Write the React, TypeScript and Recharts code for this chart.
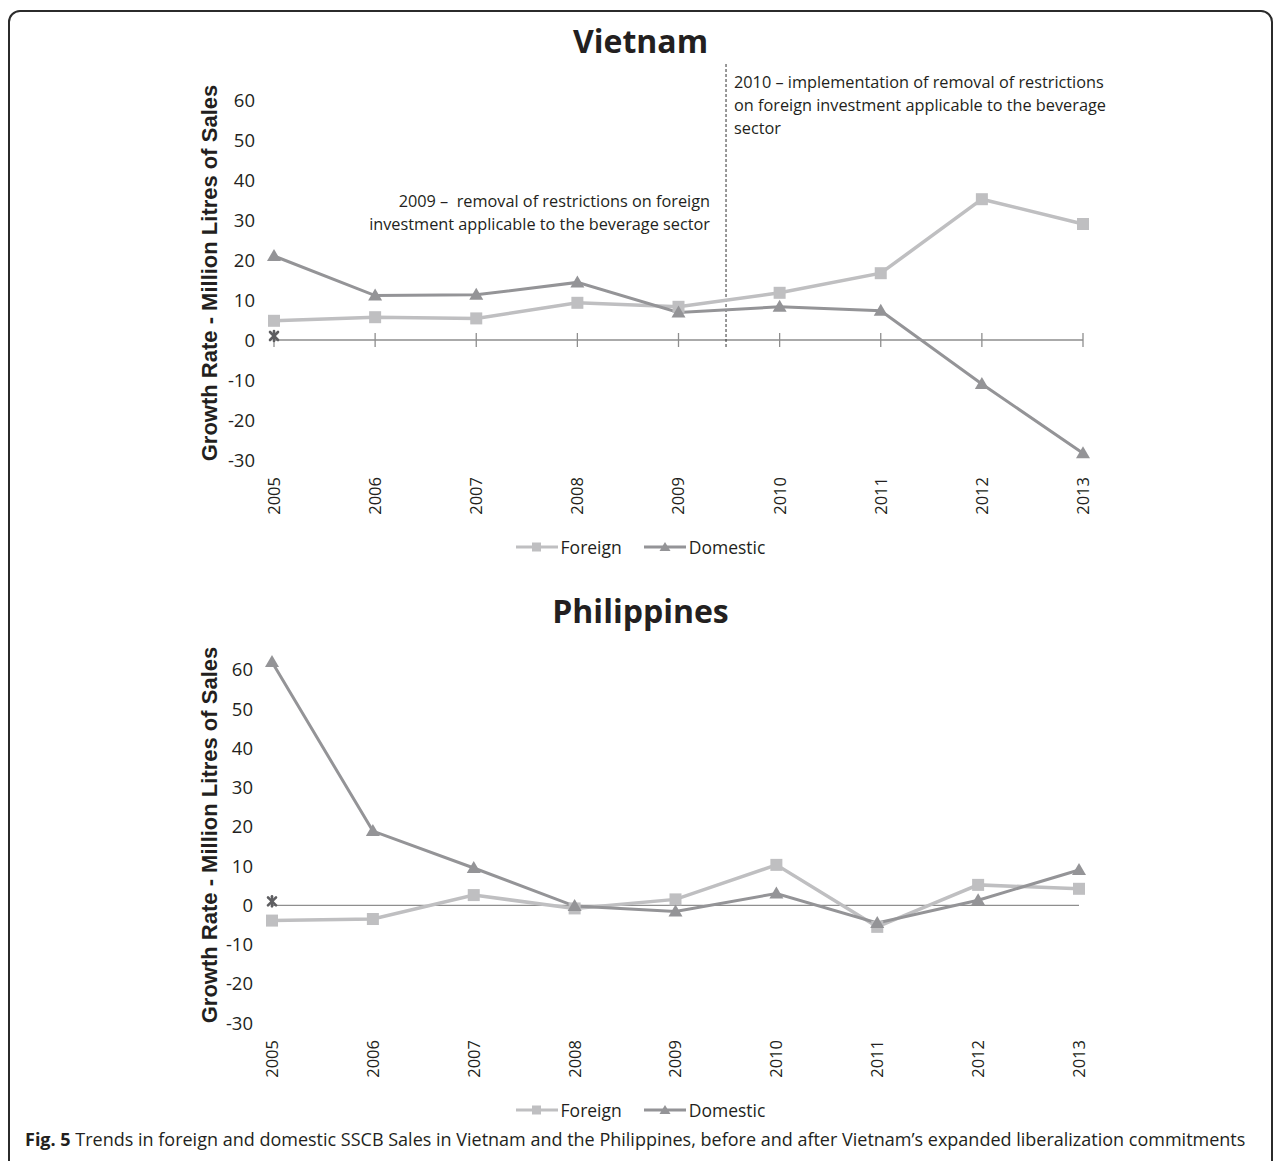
import React from "react";
import { LineChart, Line, XAxis, YAxis, ReferenceLine, Legend } from "recharts";

// categories and tick values
const years = [2005, 2006, 2007, 2008, 2009, 2010, 2011, 2012, 2013];
const yTicks = [-30, -20, -10, 0, 10, 20, 30, 40, 50, 60];

// Vietnam growth rates (million litres)
const vnForeign = [4.8, 5.7, 5.4, 9.3, 8.3, 11.8, 16.7, 35.2, 29.0];
const vnDomestic = [21.0, 11.1, 11.3, 14.4, 6.9, 8.3, 7.3, -11.0, -28.3];
const vnMarker = [1.0, null, null, null, null, null, null, null, null];

// Philippines growth rates (million litres)
const phForeign = [-3.9, -3.5, 2.6, -0.8, 1.5, 10.3, -5.5, 5.2, 4.2];
const phDomestic = [62.0, 18.9, 9.5, -0.2, -1.6, 3.0, -4.5, 1.3, 9.0];
const phMarker = [1.0, null, null, null, null, null, null, null, null];

// Vietnam reform marker (between 2009 and 2010)
const vnReformYear = 2009.47;

const legendOrder = ["foreign", "domestic"];

const FONT = '"Open Sans", sans-serif';
const TEXT = "#231f20";
const FOREIGN = "#bfbfc1";
const DOMESTIC = "#949497";
const AXIS = "#8e8e8e";

const buildRows = (foreign: number[], domestic: number[], marker: (number | null)[]) =>
  years.map((year, i) => ({ year, foreign: foreign[i], domestic: domestic[i], marker: marker[i] }));

const SquareDot = (props: any) => {
  const { cx, cy, index } = props;
  if (cx == null || cy == null) return <g key={`sq-${index}`} />;
  return <rect key={`sq-${index}`} x={cx - 6} y={cy - 6} width={12} height={12} fill={FOREIGN} />;
};

const TriangleDot = (props: any) => {
  const { cx, cy, index } = props;
  if (cx == null || cy == null) return <g key={`tr-${index}`} />;
  return (
    <polygon
      key={`tr-${index}`}
      points={`${cx},${cy - 7} ${cx - 7},${cy + 5} ${cx + 7},${cy + 5}`}
      fill={DOMESTIC}
    />
  );
};

const StarDot = (props: any) => {
  const { cx, cy, index } = props;
  if (cx == null || cy == null || props.value == null) return <g key={`st-${index}`} />;
  return (
    <g key={`st-${index}`} stroke="#5e5e61" strokeWidth={2.6} strokeLinecap="round">
      <line x1={cx - 4} y1={cy - 4} x2={cx + 4} y2={cy + 4} />
      <line x1={cx - 4} y1={cy + 4} x2={cx + 4} y2={cy - 4} />
      <line x1={cx} y1={cy - 5} x2={cx} y2={cy + 5} />
    </g>
  );
};

const YearTick = (props: any) => {
  const { x, y, payload } = props;
  return (
    <g transform={`translate(${x},${y + 9})`}>
      <text transform="rotate(-90)" textAnchor="end" dy="0.36em" fontSize={16.5} fontFamily={FONT} fill={TEXT}>
        {payload.value}
      </text>
    </g>
  );
};

const LegendContent = (props: any) => {
  const items = (props.payload || [])
    .filter((p: any) => legendOrder.includes(p.dataKey))
    .sort((a: any, b: any) => legendOrder.indexOf(a.dataKey) - legendOrder.indexOf(b.dataKey));
  return (
    <div style={{ display: "flex", justifyContent: "center", alignItems: "center", height: 30 }}>
      {items.map((p: any, i: number) => {
        const isForeign = p.dataKey === "foreign";
        const color = isForeign ? FOREIGN : DOMESTIC;
        return (
          <div key={p.dataKey} style={{ display: "flex", alignItems: "center", marginRight: i === 0 ? 22 : 0 }}>
            <svg width={42} height={14}>
              <line x1={0} y1={7} x2={42} y2={7} stroke={color} strokeWidth={3} />
              {isForeign ? (
                <rect x={16} y={2.5} width={9} height={9} fill={color} />
              ) : (
                <polygon points="21,2 15.5,11 26.5,11" fill={color} />
              )}
            </svg>
            <span style={{ marginLeft: 3, fontFamily: FONT, fontSize: 17.5, color: TEXT }}>{p.value}</span>
          </div>
        );
      })}
    </div>
  );
};

type PanelProps = {
  top: number;
  height: number;
  margin: { top: number; right: number; bottom: number; left: number };
  foreign: number[];
  domestic: number[];
  marker: (number | null)[];
  zeroTicks: boolean;
  reformLine: boolean;
};

const Panel = ({ top, height, margin, foreign, domestic, marker, zeroTicks, reformLine }: PanelProps) => {
  const rows = buildRows(foreign, domestic, marker);
  return (
    <div style={{ position: "absolute", left: 0, top }}>
      <LineChart width={1281} height={height} data={rows} margin={margin}>
        <XAxis
          dataKey="year"
          type="number"
          domain={[2005, 2013]}
          ticks={years}
          interval={0}
          axisLine={false}
          tickLine={false}
          height={72}
          tick={<YearTick />}
        />
        <YAxis
          domain={[-30, 60]}
          ticks={yTicks}
          interval={0}
          axisLine={false}
          tickLine={false}
          width={60}
          tickMargin={13}
          tick={{ fill: TEXT, fontSize: 18.5, fontFamily: FONT }}
        />
        <ReferenceLine y={0} stroke={AXIS} strokeWidth={1.3} />
        {zeroTicks &&
          years.map((yr) => (
            <ReferenceLine
              key={`tk-${yr}`}
              segment={[
                { x: yr, y: -1.75 },
                { x: yr, y: 1.75 },
              ]}
              stroke={AXIS}
              strokeWidth={1.3}
            />
          ))}
        {reformLine && (
          <ReferenceLine
            segment={[
              { x: vnReformYear, y: -1.75 },
              { x: vnReformYear, y: 69.5 },
            ]}
            ifOverflow="visible"
            stroke="#333"
            strokeWidth={1}
            strokeDasharray="3 2"
          />
        )}
        <Legend
          verticalAlign="bottom"
          height={30}
          wrapperStyle={{ left: 0, width: 1281 }}
          content={<LegendContent />}
        />
        <Line
          dataKey="foreign"
          name="Foreign"
          stroke={FOREIGN}
          strokeWidth={3.5}
          dot={SquareDot}
          activeDot={false}
          isAnimationActive={false}
        />
        <Line
          dataKey="domestic"
          name="Domestic"
          stroke={DOMESTIC}
          strokeWidth={3}
          dot={TriangleDot}
          activeDot={false}
          isAnimationActive={false}
        />
        <Line
          dataKey="marker"
          stroke="none"
          legendType="none"
          dot={StarDot}
          activeDot={false}
          isAnimationActive={false}
        />
      </LineChart>
    </div>
  );
};

const titleStyle: React.CSSProperties = {
  position: "absolute",
  left: 0,
  width: 1281,
  textAlign: "center",
  fontFamily: FONT,
  fontWeight: 700,
  fontSize: 32,
  lineHeight: "32px",
  color: TEXT,
};

const axisTitleStyle: React.CSSProperties = {
  position: "absolute",
  left: -10,
  width: 440,
  height: 24,
  lineHeight: "24px",
  textAlign: "center",
  transform: "rotate(-90deg)",
  fontFamily: '"Liberation Sans", Arial, sans-serif',
  fontWeight: 700,
  fontSize: 22,
  color: TEXT,
  whiteSpace: "nowrap",
};

const noteStyle: React.CSSProperties = {
  position: "absolute",
  fontFamily: FONT,
  fontSize: 16.3,
  lineHeight: "23px",
  color: TEXT,
  whiteSpace: "pre",
};

export default function App() {
  return (
    <div
      style={{
        position: "absolute",
        left: 0,
        top: 0,
        width: 1281,
        height: 1161,
        overflow: "hidden",
        background: "#fff",
      }}
    >
      <div
        style={{
          position: "absolute",
          left: 8,
          top: 10,
          width: 1265,
          height: 1250,
          border: "2px solid #2b2b2b",
          borderRadius: 12,
          boxSizing: "border-box",
        }}
      />

      <div style={{ ...titleStyle, top: 25 }}>Vietnam</div>
      <Panel
        top={0}
        height={570}
        margin={{ top: 100, right: 198, bottom: 8, left: 214 }}
        foreign={vnForeign}
        domestic={vnDomestic}
        marker={vnMarker}
        zeroTicks={true}
        reformLine={true}
      />
      <div style={{ ...axisTitleStyle, top: 261 }}>Growth Rate - Million Litres of Sales</div>
      <div style={{ ...noteStyle, left: 734, top: 71 }}>
        <div>2010 – implementation of removal of restrictions</div>
        <div>on foreign investment applicable to the beverage</div>
        <div>sector</div>
      </div>
      <div style={{ ...noteStyle, left: 280, top: 190, width: 430, textAlign: "right" }}>
        <div>2009 –  removal of restrictions on foreign</div>
        <div>investment applicable to the beverage sector</div>
      </div>

      <div style={{ ...titleStyle, top: 595 }}>Philippines</div>
      <Panel
        top={561}
        height={572}
        margin={{ top: 101, right: 202, bottom: 8, left: 212 }}
        foreign={phForeign}
        domestic={phDomestic}
        marker={phMarker}
        zeroTicks={false}
        reformLine={false}
      />
      <div style={{ ...axisTitleStyle, top: 823 }}>Growth Rate - Million Litres of Sales</div>

      <div
        style={{
          position: "absolute",
          left: 25,
          top: 1129,
          width: 1250,
          fontFamily: FONT,
          fontSize: 18,
          lineHeight: "20px",
          color: TEXT,
          whiteSpace: "nowrap",
        }}
      >
        <b>Fig. 5</b> Trends in foreign and domestic SSCB Sales in Vietnam and the Philippines, before and after
        Vietnam’s expanded liberalization commitments
      </div>
    </div>
  );
}
